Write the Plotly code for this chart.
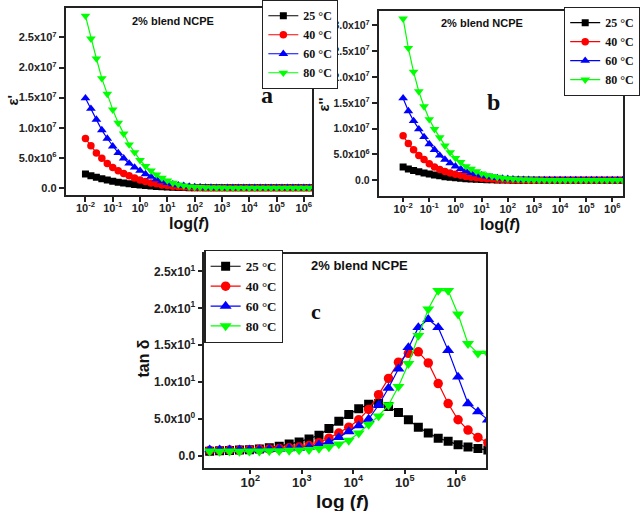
import plotly.graph_objects as go

# ---------------- data ----------------
freq_ab = [1.0e-2, 1.585e-2, 2.512e-2, 3.981e-2, 6.310e-2,
           1.0e-1, 1.585e-1, 2.512e-1, 3.981e-1, 6.310e-1,
           1.0e0, 1.585e0, 2.512e0, 3.981e0, 6.310e0,
           1.0e1, 1.585e1, 2.512e1, 3.981e1, 6.310e1,
           1.0e2, 1.585e2, 2.512e2, 3.981e2, 6.310e2,
           1.0e3, 1.585e3, 2.512e3, 3.981e3, 6.310e3,
           1.0e4, 1.585e4, 2.512e4, 3.981e4, 6.310e4,
           1.0e5, 1.585e5, 2.512e5, 3.981e5, 6.310e5,
           1.0e6, 1.585e6, 2.512e6]

# epsilon' (units of 1e6)
eps1_25 = [2.3, 2.0, 1.75, 1.5, 1.3, 1.1, 0.95, 0.8, 0.68, 0.57,
           0.47, 0.38, 0.3, 0.24, 0.18, 0.14, 0.1, 0.07, 0.05, 0.03,
           0.02, 0.01, 0.01, 0.01, 0.01, 0.01, 0.01, 0.01, 0.01, 0.01,
           0.01, 0.01, 0.01, 0.01, 0.01, 0.01, 0.01, 0.01, 0.01, 0.01,
           0.01, 0.01, 0.01]
eps1_40 = [8.2, 7.0, 5.8, 4.9, 4.05, 3.4, 2.85, 2.4, 2.0, 1.65,
           1.3, 1.05, 0.82, 0.66, 0.49, 0.38, 0.28, 0.2, 0.14, 0.1,
           0.07, 0.05, 0.03, 0.02, 0.01, 0.01, 0.01, 0.01, 0.01, 0.01,
           0.01, 0.01, 0.01, 0.01, 0.01, 0.01, 0.01, 0.01, 0.01, 0.01,
           0.01, 0.01, 0.01]
eps1_60 = [14.9, 13.15, 11.35, 9.6, 8.2, 6.9, 5.8, 4.9, 4.05, 3.4,
           2.85, 2.3, 1.86, 1.43, 1.1, 0.82, 0.6, 0.44, 0.33, 0.22,
           0.15, 0.1, 0.07, 0.05, 0.03, 0.02, 0.02, 0.02, 0.02, 0.02,
           0.02, 0.02, 0.02, 0.02, 0.02, 0.02, 0.02, 0.02, 0.02, 0.02,
           0.02, 0.02, 0.02]
eps1_80 = [28.6, 24.8, 21.5, 18.2, 15.6, 13.0, 10.8, 9.0, 7.2, 5.9,
           4.6, 3.6, 2.85, 2.2, 1.65, 1.2, 0.82, 0.55, 0.38, 0.22,
           0.16, 0.1, 0.07, 0.05, 0.03, 0.02, 0.01, 0.01, 0.01, 0.01,
           0.01, 0.01, 0.01, 0.01, 0.01, 0.01, 0.01, 0.01, 0.01, 0.01,
           0.01, 0.01, 0.01]

# epsilon'' (units of 1e6)
eps2_25 = [2.55, 2.2, 1.9, 1.65, 1.4, 1.2, 1.0, 0.85, 0.7, 0.58,
           0.48, 0.39, 0.31, 0.25, 0.2, 0.15, 0.12, 0.09, 0.06, 0.04,
           0.03, 0.02, 0.02, 0.02, 0.02, 0.02, 0.02, 0.02, 0.02, 0.02,
           0.02, 0.02, 0.02, 0.02, 0.02, 0.02, 0.02, 0.02, 0.02, 0.02,
           0.02, 0.02, 0.02]
eps2_40 = [8.6, 7.1, 5.9, 4.8, 4.0, 3.2, 2.55, 2.1, 1.7, 1.4,
           1.15, 0.95, 0.75, 0.6, 0.47, 0.37, 0.29, 0.22, 0.17, 0.13,
           0.1, 0.07, 0.05, 0.03, 0.02, 0.02, 0.02, 0.02, 0.02, 0.02,
           0.02, 0.02, 0.02, 0.02, 0.02, 0.02, 0.02, 0.02, 0.02, 0.02,
           0.02, 0.02, 0.02]
eps2_60 = [15.9, 13.4, 11.5, 9.9, 8.4, 7.0, 5.9, 4.8, 4.0, 3.3,
           2.7, 2.2, 1.8, 1.45, 1.2, 0.95, 0.75, 0.6, 0.45, 0.35,
           0.27, 0.2, 0.15, 0.11, 0.08, 0.06, 0.05, 0.05, 0.05, 0.05,
           0.05, 0.05, 0.05, 0.05, 0.05, 0.05, 0.05, 0.05, 0.05, 0.05,
           0.05, 0.05, 0.05]
eps2_80 = [31.3, 25.6, 21.0, 17.2, 14.3, 11.8, 9.9, 8.3, 6.7, 5.4,
           4.3, 3.5, 2.7, 2.2, 1.7, 1.3, 1.0, 0.8, 0.6, 0.45,
           0.35, 0.25, 0.18, 0.13, 0.1, 0.07, 0.05, 0.03, 0.02, 0.02,
           0.02, 0.02, 0.02, 0.02, 0.02, 0.02, 0.02, 0.02, 0.02, 0.02,
           0.02, 0.02, 0.02]

freq_c = [16.2, 25.3, 39.4, 61.5, 95.9, 149.6, 233.3, 363.9, 567.5, 885.1,
          1380, 2153, 3357, 5236, 8166, 12735, 19861, 30974, 48306, 75336,
          117490, 183231, 285759, 445656, 695024, 1083927, 1690441,
          2636331, 4111497]

tan_25 = [0.65, 0.7, 0.75, 0.8, 0.85, 0.95, 1.1, 1.3, 1.6, 1.9,
          2.3, 2.8, 3.7, 4.7, 5.6, 6.4, 7.0, 7.1, 6.7, 5.9,
          4.9, 3.9, 3.1, 2.4, 2.0, 1.5, 1.2, 1.0, 0.8]
tan_40 = [0.75, 0.75, 0.8, 0.8, 0.85, 0.9, 0.95, 1.0, 1.1, 1.2,
          1.4, 1.8, 2.4, 3.1, 3.9, 4.9, 6.3, 8.3, 10.5, 12.7,
          13.9, 14.1, 12.6, 9.8, 7.1, 4.9, 3.5, 2.5, 1.8]
tan_60 = [0.85, 0.85, 0.85, 0.85, 0.85, 0.85, 0.9, 0.95, 1.0, 1.05,
          1.2, 1.5, 1.9, 2.5, 3.3, 4.1, 5.0, 6.9, 9.2, 11.8,
          14.7, 17.4, 18.5, 17.4, 14.3, 10.7, 7.1, 6.0, 4.9]
tan_80 = [0.65, 0.6, 0.65, 0.6, 0.65, 0.65, 0.7, 0.7, 0.75, 0.8,
          0.85, 1.0, 1.2, 1.6, 2.1, 3.1, 4.25, 5.4, 6.9, 9.4,
          12.5, 16.3, 19.9, 22.4, 22.4, 19.2, 15.2, 13.9, 13.9]

labels = ["25 °C", "40 °C", "60 °C", "80 °C"]
colors = ["#000000", "#FF0000", "#0000FF", "#00FF00"]
symbols = ["square", "circle", "triangle-up", "triangle-down"]

W, H = 640, 511

def px_x(p):
    return p / W

def px_y(p):
    return 1 - p / H

fig = go.Figure()

panels = [
    ("x", "y", "legend", freq_ab, [eps1_25, eps1_40, eps1_60, eps1_80], 1e6, [7, 7.5, 8.5, 8.5]),
    ("x2", "y2", "legend2", freq_ab, [eps2_25, eps2_40, eps2_60, eps2_80], 1e6, [7, 7.5, 8.5, 8.5]),
    ("x3", "y3", "legend3", freq_c, [tan_25, tan_40, tan_60, tan_80], 1.0, [9, 9.5, 10.5, 10.5]),
]

for xa, ya, lg, fx, series, scale, msizes in panels:
    for i, s in enumerate(series):
        fig.add_trace(go.Scatter(
            x=fx, y=[v * scale for v in s],
            xaxis=xa, yaxis=ya, legend=lg,
            mode="lines+markers",
            name="<b>%s</b>" % labels[i],
            line=dict(color=colors[i], width=1.2),
            marker=dict(symbol=symbols[i], color=colors[i], size=msizes[i],
                        line=dict(width=0)),
        ))

FONT = "Arial, Liberation Sans, sans-serif"
SERIF = "Times New Roman, Liberation Serif, serif"

def sci(m, e):
    return "<b>%sx10<sup>%d</sup></b>" % (m, e)

def dec_labels(exps):
    return ["<b>10<sup>%d</sup></b>" % e for e in exps]

frame = dict(showline=True, linecolor="#222", linewidth=1.5, mirror=True,
             ticks="outside", ticklen=5, tickwidth=1.5, tickcolor="#222",
             showgrid=False, zeroline=False)

fig.update_layout(
    xaxis=dict(domain=[px_x(67), px_x(319)], anchor="y", type="log",
               range=[-2.73, 6.3],
               tickvals=[10.0 ** e for e in range(-2, 7)],
               ticktext=dec_labels(range(-2, 7)), ticklabelstandoff=-3,
               tickfont=dict(family=FONT, size=11, color="#222"), **frame),
    yaxis=dict(domain=[px_y(191), px_y(2)], anchor="x",
               range=[-1.15e6, 2.99e7],
               tickvals=[0, 5e6, 1e7, 1.5e7, 2e7, 2.5e7],
               ticktext=["<b>0.0</b>", sci("5.0", 6), sci("1.0", 7), sci("1.5", 7),
                         sci("2.0", 7), sci("2.5", 7)],
               tickfont=dict(family=FONT, size=11, color="#222"), **frame),
    xaxis2=dict(domain=[px_x(387), px_x(637)], anchor="y2", type="log",
                range=[-2.94, 6.41],
                tickvals=[10.0 ** e for e in range(-2, 7)],
                ticktext=dec_labels(range(-2, 7)), ticklabelstandoff=-3,
                tickfont=dict(family=FONT, size=11, color="#222"), **frame),
    yaxis2=dict(domain=[px_y(192), px_y(5)], anchor="x2",
                range=[-3.0e6, 3.28e7],
                tickvals=[0, 5e6, 1e7, 1.5e7, 2e7, 2.5e7, 3e7],
                ticktext=["<b>0.0</b>", sci("5.0", 6), sci("1.0", 7), sci("1.5", 7),
                          sci("2.0", 7), sci("2.5", 7), sci("3.0", 7)],
                tickfont=dict(family=FONT, size=10.5, color="#222"), **frame),
    xaxis3=dict(domain=[px_x(209), px_x(497)], anchor="y3", type="log",
                range=[1.108, 6.58],
                tickvals=[10.0 ** e for e in range(2, 7)],
                ticktext=dec_labels(range(2, 7)), ticklabelstandoff=-3,
                tickfont=dict(family=FONT, size=13, color="#222"), **frame),
    yaxis3=dict(domain=[px_y(467), px_y(251)], anchor="x3",
                range=[-1.57, 27.35],
                tickvals=[0, 5, 10, 15, 20, 25],
                ticktext=["<b>0.0</b>", sci("5.0", 0), sci("1.0", 1), sci("1.5", 1),
                          sci("2.0", 1), sci("2.5", 1)],
                tickfont=dict(family=FONT, size=12, color="#222"), **frame),
)

leg_common = dict(xanchor="left", yanchor="top", bgcolor="white",
                  bordercolor="#222", borderwidth=1.2, itemwidth=30,
                  tracegroupgap=0)
fig.update_layout(
    legend=dict(x=px_x(268), y=px_y(-6), font=dict(family=SERIF, size=12, color="#111"),
                **leg_common),
    legend2=dict(x=px_x(577), y=px_y(1), font=dict(family=SERIF, size=12, color="#111"),
                 **leg_common),
    legend3=dict(x=px_x(209), y=px_y(247), font=dict(family=SERIF, size=13, color="#111"),
                 **leg_common),
)

def ann(text, x, y, size, family=FONT, angle=0):
    fig.add_annotation(text=text, x=px_x(x), y=px_y(y), xref="paper", yref="paper",
                       showarrow=False, textangle=angle, xanchor="center",
                       yanchor="middle", font=dict(family=family, size=size, color="#111"))

# inner texts
ann("<b>2% blend NCPE</b>", 177, 15, 11)
ann("<b>2% blend NCPE</b>", 493, 17, 11)
ann("<b>2% blend NCPE</b>", 368, 263, 13)
ann("<b>a</b>", 273, 90, 24, SERIF)
ann("<b>b</b>", 505, 97, 24, SERIF)
ann("<b>c</b>", 323, 309, 22, SERIF)

# axis titles
ann("<b>ε'</b>", 13, 95, 15, FONT, -90)
ann("<b>ε''</b>", 331, 100, 15, FONT, -90)
ann("<b>tan δ</b>", 147, 357, 16, FONT, -90)
ann("<b>log(<i>f</i>)</b>", 193, 220, 16)
ann("<b>log(<i>f</i>)</b>", 511, 221, 16)
ann("<b>log (<i>f</i>)</b>", 350, 501, 19)

fig.update_layout(width=W, height=H, margin=dict(l=0, r=0, t=0, b=0),
                  paper_bgcolor="white", plot_bgcolor="white", showlegend=True)

fig.write_html("out.html")
